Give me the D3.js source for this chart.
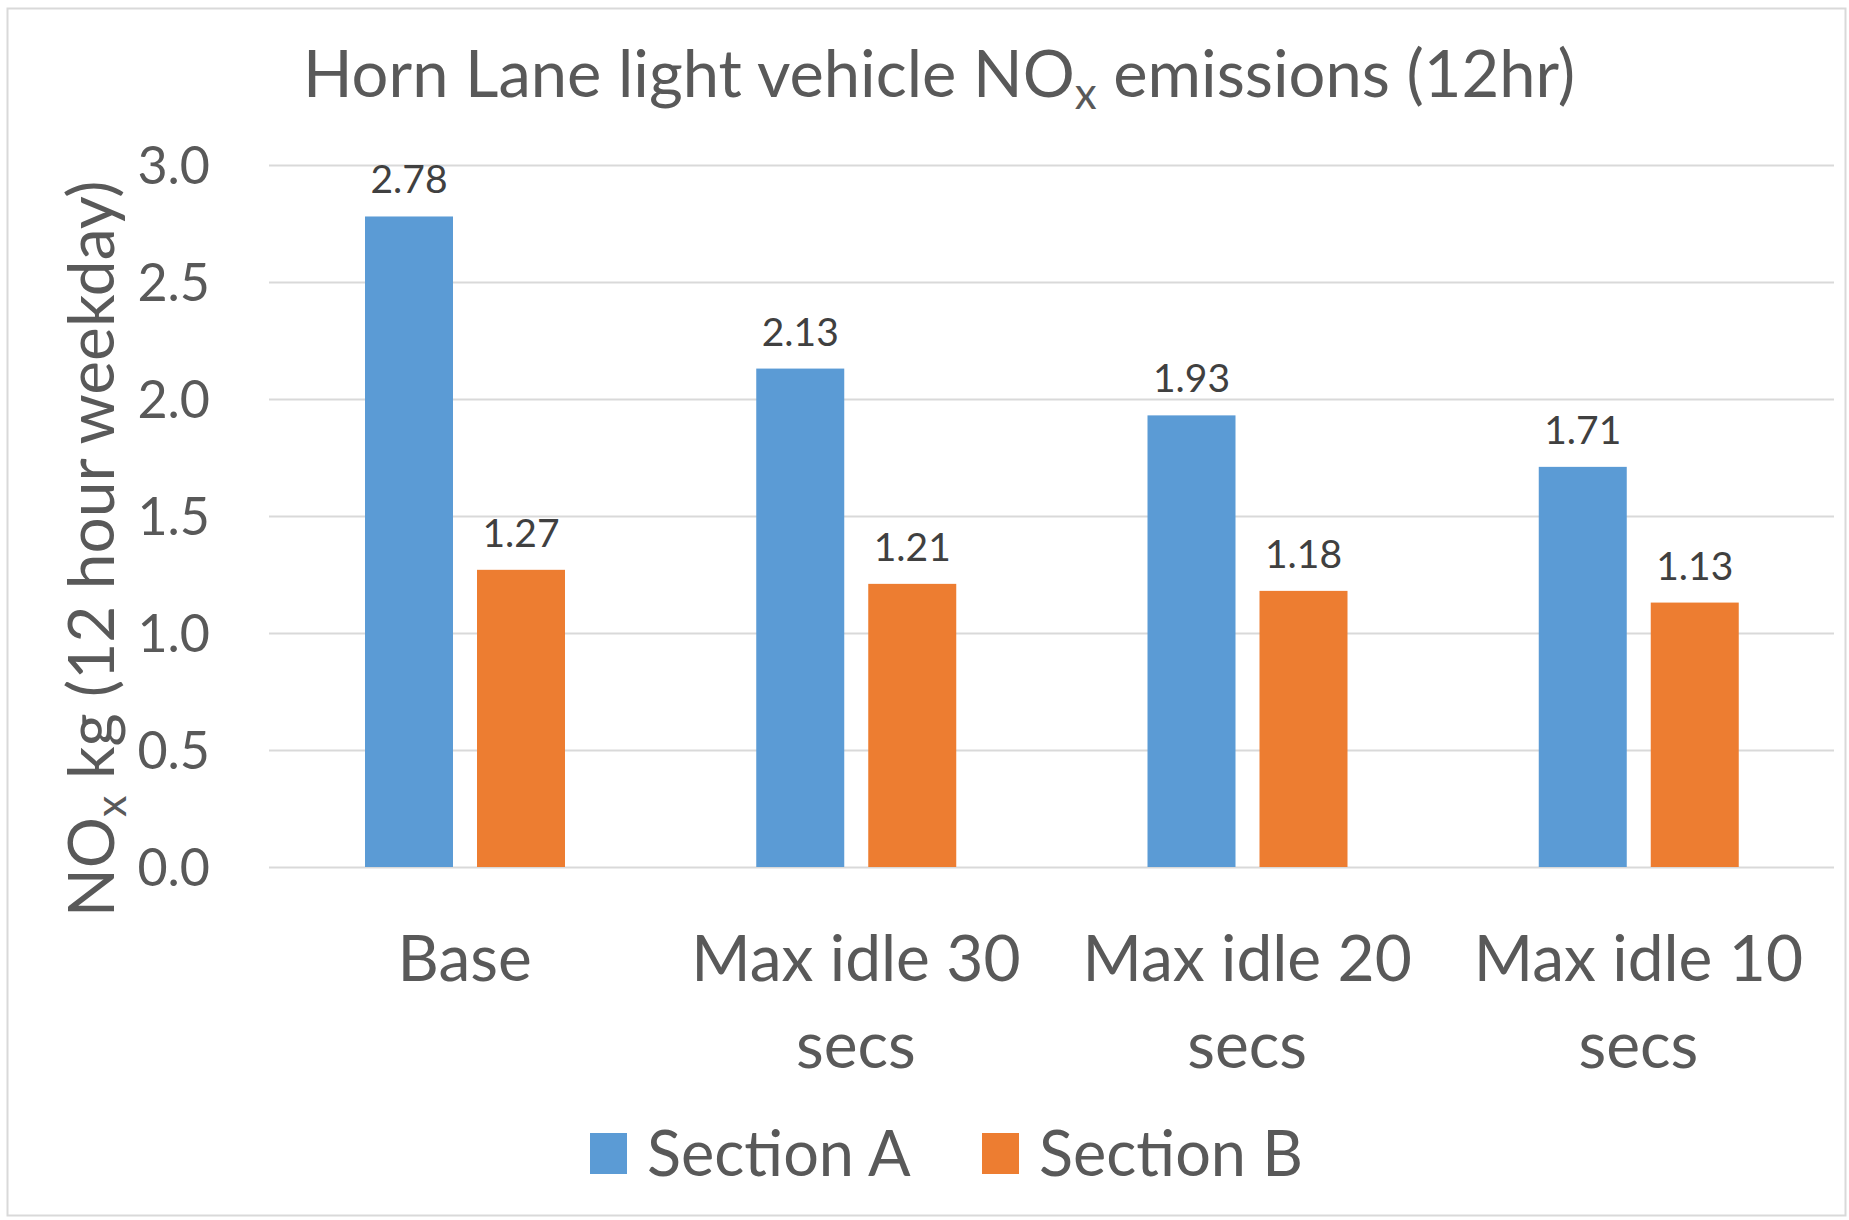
<!DOCTYPE html>
<html>
<head>
<meta charset="utf-8">
<script src="https://cdn.jsdelivr.net/npm/d3@7"></script>
<style>
  body { margin: 0; background: #fff; }
  text { font-family: Lato, "Open Sans", sans-serif; }
</style>
</head>
<body>
<div id="container"></div>
<script>
// data
var categories = ["Base", "Max idle 30 secs", "Max idle 20 secs", "Max idle 10 secs"];
var seriesNames = ["Section A", "Section B"];
var sectionA = [2.78, 2.13, 1.93, 1.71];
var sectionB = [1.27, 1.21, 1.18, 1.13];
var yTicks = [0, 0.5, 1.0, 1.5, 2.0, 2.5, 3.0];
var colors = ["#5B9BD5", "#ED7D31"];

var width = 1849, height = 1220;
var plotLeft = 269, plotRight = 1834, plotTop = 165, plotBottom = 867;

var svg = d3.select("#container")
  .append("svg")
  .attr("width", width)
  .attr("height", height);

// chart border
svg.append("rect")
  .attr("x", 7.5).attr("y", 8.5)
  .attr("width", 1838).attr("height", 1207)
  .attr("fill", "#fff")
  .attr("stroke", "#D9D9D9")
  .attr("stroke-width", 2);

var x0 = d3.scaleBand().domain(categories).range([plotLeft, plotRight]);
var x1 = d3.scaleBand().domain(seriesNames)
  .range([96, 296])
  .paddingInner(24 / 112);
var y = d3.scaleLinear().domain([0, 3]).range([plotBottom, plotTop]);

// gridlines
svg.append("g")
  .attr("transform", "translate(" + plotLeft + ",0)")
  .call(d3.axisLeft(y).tickValues(yTicks).tickSize(-(plotRight - plotLeft)).tickFormat(""))
  .call(function(g) { g.select(".domain").remove(); })
  .selectAll("line")
  .attr("stroke", "#D9D9D9")
  .attr("stroke-width", 2);

// y tick labels
var yAxis = svg.append("g")
  .attr("transform", "translate(210,0)")
  .call(d3.axisLeft(y).tickValues(yTicks).tickSize(0).tickPadding(0).tickFormat(d3.format(".1f")));
yAxis.select(".domain").remove();
yAxis.selectAll("text")
  .attr("font-family", "Lato")
  .attr("font-size", 52)
  .attr("fill", "#595959")
  .attr("dy", "0.36em");

// bars
var rows = categories.map(function(c, i) {
  return { cat: c, vals: [sectionA[i], sectionB[i]] };
});

var groups = svg.selectAll(".grp")
  .data(rows)
  .enter().append("g")
    .classed("grp", true)
    .attr("transform", function(d) { return "translate(" + x0(d.cat) + ",0)"; });

var bars = groups.selectAll("rect")
  .data(function(d) { return d.vals.map(function(v, j) { return { s: seriesNames[j], v: v, j: j }; }); })
  .enter().append("rect")
    .attr("x", function(d) { return x1(d.s); })
    .attr("width", x1.bandwidth())
    .attr("y", function(d) { return y(d.v); })
    .attr("height", function(d) { return y(0) - y(d.v); })
    .attr("fill", function(d) { return colors[d.j]; });

groups.selectAll(".val")
  .data(function(d) { return d.vals.map(function(v, j) { return { s: seriesNames[j], v: v }; }); })
  .enter().append("text")
    .classed("val", true)
    .attr("x", function(d) { return x1(d.s) + x1.bandwidth() / 2; })
    .attr("y", function(d) { return y(d.v) - 23; })
    .attr("text-anchor", "middle")
    .attr("font-size", 39)
    .attr("fill", "#404040")
    .text(function(d) { return d.v.toFixed(2); });

// x labels, wrapped to the band width
var xl = svg.selectAll(".xlab")
  .data(categories)
  .enter().append("text")
    .classed("xlab", true)
    .attr("x", function(d) { return x0(d) + x0.bandwidth() / 2; })
    .attr("y", 981)
    .attr("text-anchor", "middle")
    .attr("font-size", 64)
    .attr("fill", "#595959");

xl.each(function(d) {
  var el = d3.select(this);
  var words = d.split(" ");
  var line = [];
  var tspan = el.append("tspan").attr("x", el.attr("x")).attr("dy", 0);
  words.forEach(function(w) {
    line.push(w);
    tspan.text(line.join(" "));
    if (tspan.node().getComputedTextLength() > x0.bandwidth() - 40 && line.length > 1) {
      line.pop();
      tspan.text(line.join(" "));
      line = [w];
      tspan = el.append("tspan").attr("x", el.attr("x")).attr("dy", 87).text(w);
    }
  });
});

// title
var title = svg.append("text")
  .attr("x", 303)
  .attr("y", 97)
  .attr("font-size", 65)
  .attr("fill", "#595959");
title.append("tspan").text("Horn Lane light vehicle NO");
title.append("tspan").attr("font-size", 44).attr("dy", 12).text("x");
title.append("tspan").attr("dy", -12).text(" emissions (12hr)");

// y axis title
var ytitle = svg.append("text")
  .attr("transform", "translate(114,917) rotate(-90)")
  .attr("font-size", 64)
  .attr("fill", "#595959");
ytitle.append("tspan").text("NO");
ytitle.append("tspan").attr("font-size", 43).attr("dy", 12).text("x");
ytitle.append("tspan").attr("dy", -12).text(" kg (12 hour weekday)");

// legend
var legendX = [590, 982];
var legend = svg.selectAll(".legendItem")
  .data(seriesNames)
  .enter().append("g")
    .classed("legendItem", true)
    .attr("transform", function(d, i) { return "translate(" + legendX[i] + ",1133)"; });
legend.append("rect")
  .attr("width", 37)
  .attr("height", 41)
  .attr("fill", function(d, i) { return colors[i]; });
legend.append("text")
  .attr("x", 57)
  .attr("y", 43)
  .attr("font-size", 63)
  .attr("fill", "#595959")
  .text(function(d) { return d; });
</script>
</body>
</html>
